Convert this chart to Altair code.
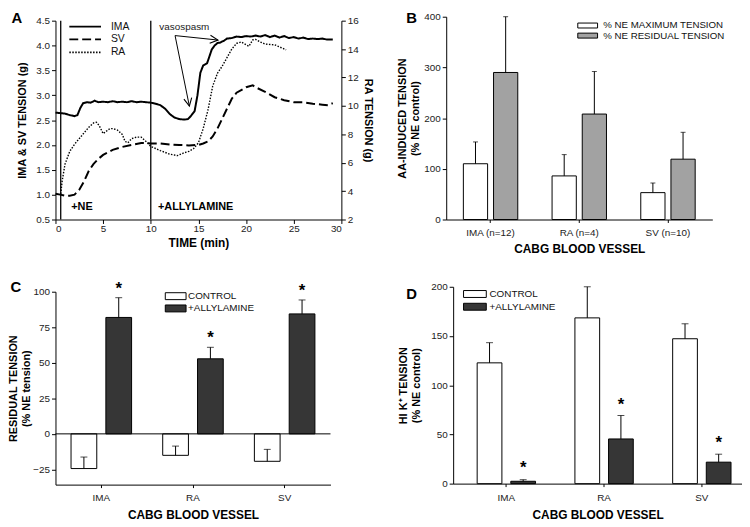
import altair as alt
import pandas as pd

FONT = "Liberation Sans"

# ---------------- Panel A : time course ----------------
ima_t = [0, 0.5, 1, 1.5, 2, 2.3, 2.6, 2.9, 3.3, 3.7, 4.1, 4.5, 5, 5.5, 6, 6.5, 7, 7.5, 8, 8.5,
         9, 9.5, 10, 10.5, 11, 11.5, 12, 12.5, 13, 13.5, 13.9, 14.2, 14.6, 14.9, 15.2, 15.5, 15.9,
         16.1, 16.4, 16.7, 17, 17.3, 17.7, 18, 18.5, 19, 19.5, 20, 20.5, 21, 21.5, 22, 22.5, 23,
         23.5, 24, 24.5, 25, 25.5, 26, 26.5, 27, 27.5, 28, 28.5, 29.1]
ima_v = [2.65, 2.64, 2.63, 2.6, 2.58, 2.6, 2.74, 2.84, 2.86, 2.85, 2.89, 2.86, 2.87, 2.86, 2.88, 2.86,
         2.87, 2.86, 2.88, 2.86, 2.87, 2.86, 2.85, 2.83, 2.8, 2.73, 2.62, 2.55, 2.52, 2.51, 2.52, 2.58,
         2.68, 3.0, 3.45, 3.6, 3.64, 3.75, 3.92, 4.0, 4.05, 4.06, 4.1, 4.14, 4.15, 4.18, 4.17, 4.19,
         4.18, 4.2, 4.18, 4.21, 4.17, 4.2, 4.16, 4.19, 4.15, 4.17, 4.14, 4.16, 4.13, 4.14, 4.13,
         4.14, 4.12, 4.12]
sv_t = [0, 0.5, 1, 1.5, 2, 2.5, 3, 3.5, 4, 4.5, 5, 6, 7, 8, 9, 10, 11, 12, 13, 14, 15, 15.5, 16,
        16.5, 17, 17.5, 18, 18.5, 19, 20, 20.7, 21, 22, 23, 24, 25, 26, 27, 28, 28.6, 29.1]
sv_v = [1.02, 1.0, 0.98, 0.98, 1.0, 1.1, 1.27, 1.48, 1.62, 1.72, 1.8, 1.9, 1.96, 2.0, 2.04, 2.03,
        2.03, 2.01, 2.0, 1.99, 2.0, 2.03, 2.07, 2.17, 2.33, 2.53, 2.73, 2.93, 3.05, 3.16, 3.2, 3.16,
        3.07, 2.96, 2.9, 2.86, 2.86, 2.83, 2.81, 2.8, 2.84]
ra_t = [0.55, 0.7, 1, 1.5, 2, 2.5, 3, 3.5, 4, 4.3, 4.6, 5, 5.3, 5.7, 6, 6.5, 7, 7.3, 7.6, 8, 8.5, 9,
        9.5, 10, 10.5, 11, 12, 12.8, 13.5, 14, 14.5, 15, 15.5, 16, 16.5, 17, 17.5, 18, 18.5, 19,
        19.5, 20, 20.3, 20.7, 21, 21.5, 22, 23, 24.2]
ra_v = [3.8, 4.7, 5.9, 6.8, 7.3, 7.7, 8.1, 8.5, 8.8, 8.85, 8.6, 8.05, 8.2, 8.4, 8.4, 8.3, 8.0, 7.5,
        7.4, 7.7, 7.8, 7.8, 7.5, 7.15, 7.0, 6.85, 6.6, 6.5, 6.7, 6.8, 7.0, 7.4, 8.4, 9.7, 11.4, 12.3,
        12.8, 13.4, 14.0, 14.4, 14.5, 14.3, 14.2, 14.65, 14.68, 14.5, 14.35, 14.3, 13.95]
series_order = ["IMA", "SV", "RA"]
vline_x = [0.55, 10.0]
vline_lo = [0.5, 0.5]
vline_hi = [4.5, 4.5]
note_text = ["+NE", "+ALLYLAMINE"]
note_x = [1.65, 10.75]
note_y = [0.76, 0.76]
spasm_text = ["vasospasm"]
spasm_x = [10.9]
spasm_y = [4.37]
arrow_x0 = [12.55, 12.55]
arrow_y0 = [4.2, 4.2]
arrow_x1 = [14.05, 17.05]
arrow_y1 = [2.78, 4.11]
arrow_angle = [168.6, 95.9]

# ---------------- Panel B ----------------
cats_b = ["IMA (n=12)", "RA (n=4)", "SV (n=10)"]
groups_b = ["% NE MAXIMUM TENSION", "% NE RESIDUAL TENSION"]
b_max = [110, 86, 53]
b_max_err = [153, 128, 72]
b_res = [290, 208, 119]
b_res_err = [400, 292, 172]

# ---------------- Panel C ----------------
cats = ["IMA", "RA", "SV"]
groups_cd = ["CONTROL", "+ALLYLAMINE"]
c_ctrl = [-24.4, -15.1, -19.3]
c_ctrl_err = [-16.3, -8.6, -10.9]
c_ally = [81.9, 52.8, 84.4]
c_ally_err = [95.8, 60.9, 94.2]
c_star = [105.0, 70.2, 103.5]
zero_ref = [0]

# ---------------- Panel D ----------------
d_ctrl = [122.7, 168.4, 147.2]
d_ctrl_err = [143.2, 200.0, 162.4]
d_ally = [2.4, 45.4, 21.8]
d_ally_err = [4.0, 69.2, 29.9]
d_star = [20.2, 83.4, 45.4]


def panel_label(letter, x, y):
    return alt.Chart(pd.DataFrame({"lab": [letter]})).mark_text(
        font=FONT, fontSize=15, fontWeight="bold", align="center", baseline="middle", color="black"
    ).encode(text="lab:N", x=alt.value(x), y=alt.value(y))


# ----- build A -----
dfA = pd.concat([
    pd.DataFrame({"t": ima_t, "v": ima_v, "series": "IMA"}),
    pd.DataFrame({"t": sv_t, "v": sv_v, "series": "SV"}),
])
dfRA = pd.DataFrame({"t": ra_t, "v": ra_v, "series": "RA"})

xA = alt.X("t:Q", scale=alt.Scale(domain=[0, 30], nice=False, padding=0, zero=False),
           axis=alt.Axis(values=[0, 5, 10, 15, 20, 25, 30], title="TIME (min)", titleFontSize=12,
                         labelPadding=0, titlePadding=4, labelOverlap=False))
dashA = alt.StrokeDash(
    "series:N",
    scale=alt.Scale(domain=series_order, range=[[1, 0], [9, 4], [1.5, 1.5]]),
    legend=alt.Legend(orient="none", legendX=24.75, legendY=4.75, title=None, symbolType="M-16,0H16",
                      symbolSize=4, symbolStrokeWidth=1.8, symbolStrokeColor="black",
                      labelFontSize=10.5, labelOffset=20.75, rowPadding=2.0, padding=0),
)
axisA = alt.Axis(values=[0.5, 1, 1.5, 2, 2.5, 3, 3.5, 4, 4.5], format=".1f",
                 title="IMA & SV TENSION (g)", titlePadding=8, labelOverlap=False)
yA = alt.Y("v:Q", scale=alt.Scale(domain=[0.5, 4.5], range=[205, 4], nice=False, padding=0, zero=False),
           axis=axisA)

linesA = alt.Chart(dfA).mark_line(color="black", strokeWidth=2).encode(x=xA, y=yA, strokeDash=dashA)
vlines = alt.Chart(pd.DataFrame({"x": vline_x, "lo": vline_lo, "hi": vline_hi})).mark_rule(
    color="black", strokeWidth=1.3).encode(x="x:Q", y=alt.Y("lo:Q", axis=axisA), y2="hi:Q")
notes = alt.Chart(pd.DataFrame({"txt": note_text, "x": note_x, "y": note_y})).mark_text(
    font=FONT, fontSize=11, fontWeight="bold", align="left", baseline="middle", color="black"
).encode(x="x:Q", y=alt.Y("y:Q", axis=axisA), text="txt:N")
spasm = alt.Chart(pd.DataFrame({"txt": spasm_text, "x": spasm_x, "y": spasm_y})).mark_text(
    font=FONT, fontSize=10, align="left", baseline="middle", color="#222"
).encode(x="x:Q", y=alt.Y("y:Q", axis=axisA), text="txt:N")
dfArrow = pd.DataFrame({"x0": arrow_x0, "y0": arrow_y0, "x1": arrow_x1, "y1": arrow_y1, "ang": arrow_angle})
shafts = alt.Chart(dfArrow).mark_rule(color="black", strokeWidth=1).encode(
    x="x0:Q", y=alt.Y("y0:Q", axis=axisA), x2="x1:Q", y2="y1:Q")
heads = alt.Chart(dfArrow).mark_point(
    shape="M-1,2L0,0L1,2", filled=False, color="black", strokeWidth=1.1, size=64, opacity=1
).encode(x="x1:Q", y=alt.Y("y1:Q", axis=axisA), angle=alt.Angle("ang:Q", scale=None))

left_layer = alt.layer(linesA, vlines, notes, spasm, shafts, heads, panel_label("A", -39, 1.5))
raLine = alt.Chart(dfRA).mark_line(color="black", strokeWidth=1.4).encode(
    x=alt.X("t:Q"),
    y=alt.Y("v:Q", scale=alt.Scale(domain=[2, 16], range=[205, 4], nice=False, padding=0, zero=False),
            axis=alt.Axis(orient="right", values=[2, 4, 6, 8, 10, 12, 14, 16],
                          title="RA TENSION (g)", titlePadding=4, labelOverlap=False)),
    strokeDash=alt.StrokeDash("series:N"),
)
chartA = alt.layer(left_layer, raLine).resolve_scale(y="independent").properties(width=289, height=205)


# ----- bar panel builder -----
def bar_panel(cat_list, grp_list, vals, errs, colors, star_vals, ydom, yrng, yvals, ytitle,
              ytitle_pad, width, height, xsc, bar_w, offsets, legend, cap, lab, lab_xy, xlab_pad,
              xtitle_pad, zero_line=False):
    xaxis = alt.Axis(title="CABG BLOOD VESSEL", labelAngle=0, ticks=True, tickSize=3,
                     titleFontSize=12, labelPadding=xlab_pad, titlePadding=xtitle_pad,
                     labelOverlap=False)
    yaxis = alt.Axis(values=yvals, title=ytitle, titlePadding=ytitle_pad, labelOverlap=False)
    x = alt.X("cat:N", scale=alt.Scale(domain=cat_list, **xsc), sort=cat_list, axis=xaxis)
    y = alt.Y("val:Q", scale=alt.Scale(domain=ydom, range=yrng, nice=False, zero=False, padding=0),
              axis=yaxis)
    xn = alt.X("cat:N", axis=xaxis)
    layers = []
    for gi, (g, vv, ee, off) in enumerate(zip(grp_list, vals, errs, offsets)):
        df = pd.DataFrame({"cat": cat_list, "grp": g, "val": vv, "err": ee})
        if gi == 0:
            fill = alt.Fill("grp:N", scale=alt.Scale(domain=grp_list, range=colors), legend=legend)
            bars = alt.Chart(df).mark_bar(stroke="black", strokeWidth=1, width=bar_w, xOffset=off).encode(
                x=x, y=y, fill=fill)
        else:
            bars = alt.Chart(df).mark_bar(stroke="black", strokeWidth=1, width=bar_w, xOffset=off).encode(
                x=xn, y=alt.Y("val:Q", axis=yaxis), fill="grp:N")
        ebar = alt.Chart(df).mark_rule(color="black", strokeWidth=1, xOffset=off).encode(
            x=xn, y=alt.Y("val:Q", axis=yaxis), y2="err:Q")
        caps = alt.Chart(df).mark_tick(color="black", thickness=1, size=cap, orient="horizontal",
                                       xOffset=off).encode(x=xn, y=alt.Y("err:Q", axis=yaxis))
        layers += [bars, ebar, caps]
    if zero_line:
        layers.append(alt.Chart(pd.DataFrame({"z": zero_ref})).mark_rule(color="black", strokeWidth=1).encode(
            y=alt.Y("z:Q", axis=yaxis)))
    if star_vals is not None:
        sdf = pd.DataFrame({"cat": cat_list, "s": star_vals, "t": "*"})
        stars = alt.Chart(sdf).mark_text(font=FONT, fontSize=17, fontWeight="bold", baseline="middle",
                                         dy=4, xOffset=offsets[1], color="black").encode(
            x=xn, y=alt.Y("s:Q", axis=yaxis), text="t:N")
        layers.append(stars)
    layers.append(panel_label(lab, *lab_xy))
    return alt.layer(*layers).properties(width=width, height=height)


def bar_legend(x, y, half_w, half_h, fs, off, rp):
    return alt.Legend(orient="none", legendX=x, legendY=y, title=None,
                      symbolType=f"M-{half_w},-{half_h}H{half_w}V{half_h}H-{half_w}Z",
                      symbolSize=4, symbolStrokeColor="black", symbolStrokeWidth=1,
                      labelFontSize=fs, labelOffset=off, rowPadding=rp, padding=0)


chartB = bar_panel(
    cats_b, groups_b, [b_max, b_res], [b_max_err, b_res_err], ["white", "#a2a2a2"], None,
    [0, 400], [205, 0], [0, 100, 200, 300, 400], ["AA-INDUCED TENSION", "(% NE control)"], 3,
    269, 205, dict(paddingInner=0, paddingOuter=0), 24.5, [-15.25, 15.25],
    bar_legend(138.1, 4.0, 10, 2.5, 9.8, 10.8, -0.8), 5, "B", (-35, 1.5), 5, 6)

chartC = bar_panel(
    cats, groups_cd, [c_ctrl, c_ally], [c_ctrl_err, c_ally_err], ["white", "#363636"], c_star,
    [-35.7, 100], [200, 5], [-25, 0, 25, 50, 75, 100], ["RESIDUAL TENSION", "(% NE tension)"], 1,
    278, 200, dict(paddingInner=0, paddingOuter=0), 26, [-17.6, 17.6],
    bar_legend(116.5, 4.5, 10.5, 3.5, 10, 7.5, 0.4), 7, "C", (-40, 0), 5, 7.5, zero_line=True)

chartD = bar_panel(
    cats, groups_cd, [d_ctrl, d_ally], [d_ctrl_err, d_ally_err], ["white", "#363636"], d_star,
    [0, 200], [199, 0], [0, 50, 100, 150, 200], ["HI K⁺ TENSION", "(% NE control)"], 9,
    292, 199, dict(paddingInner=0.2, paddingOuter=0.0776, align=0.93), 25, [-17, 17],
    bar_legend(17, 2.3, 11.5, 3.5, 10, 9.7, 0.9), 7, "D", (-42, 7), 6, 7)

top = alt.hconcat(chartA, chartB, spacing=106, bounds="flush").resolve_scale(
    fill="independent", strokeDash="independent")
bottom = alt.hconcat(chartC, chartD, spacing=124, bounds="flush").resolve_scale(
    fill="independent", strokeDash="independent")
chart = alt.vconcat(top, bottom, spacing=25, bounds="full", padding=0).resolve_scale(
    fill="independent", strokeDash="independent"
).configure_view(stroke=None).configure_axis(
    labelFont=FONT, titleFont=FONT, labelFontSize=10, titleFontSize=11, titleFontWeight="bold",
    labelColor="#222", titleColor="black", domainColor="black", tickColor="black", grid=False,
    tickSize=4, labelPadding=2, domainWidth=1, labelOverlap=False
).configure_legend(labelFont=FONT, labelColor="#111")

chart.save("out.html", embed_options={"renderer": "svg", "actions": False})
